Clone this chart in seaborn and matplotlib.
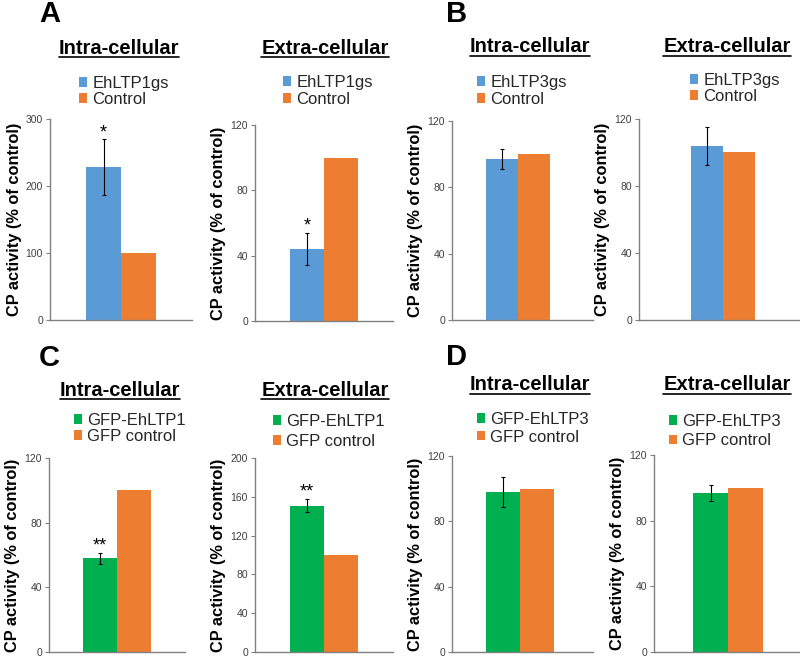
import pandas as pd
import matplotlib
matplotlib.use('Agg')
import matplotlib.pyplot as plt
import seaborn as sns
from matplotlib.lines import Line2D

# === Data ===
panel_letters = ['A', 'B', 'C', 'D']
titles = ['Intra-cellular', 'Extra-cellular'] * 4
groups = [['EhLTP1gs', 'Control'], ['EhLTP1gs', 'Control'],
          ['EhLTP3gs', 'Control'], ['EhLTP3gs', 'Control'],
          ['GFP-EhLTP1', 'GFP control'], ['GFP-EhLTP1', 'GFP control'],
          ['GFP-EhLTP3', 'GFP control'], ['GFP-EhLTP3', 'GFP control']]
values = [[228, 100], [44, 100], [97, 100], [104, 100],
          [58, 100], [151, 100], [98, 100], [97, 100]]
errors = [[42, 0], [10, 0], [6, 0], [11.5, 0],
          [3.5, 0], [7, 0], [9, 0], [5, 0]]
stars = ['*', '*', '', '', '**', '**', '', '']
ymax = [300, 120, 120, 120, 120, 200, 120, 120]
ystep = [100, 40, 40, 40, 40, 40, 40, 40]
treat_colors = ['#5B9BD5', '#5B9BD5', '#5B9BD5', '#5B9BD5',
                '#00B050', '#00B050', '#00B050', '#00B050']
control_color = '#ED7D31'

# === Layout (pixels, y from top) ===
W, H = 800, 658
# left, right, top(ymax), bottom(0), bar centre, bar width
boxes = [(50, 192, 119, 320, 121, 35), (255, 393, 125, 321, 324, 34),
         (452, 593, 121, 320, 518, 32), (639, 807, 119, 320, 723, 32),
         (49, 185, 458, 652, 117, 34), (255, 393, 458, 652, 324, 34),
         (452, 593, 456, 652, 520, 34), (654, 802, 455, 652, 728, 35)]
title_pos = [(119, 48), (325, 48), (530, 47), (727, 47),
             (120, 390), (325, 390), (530, 385), (727, 385)]
legend_pos = [(79, 76), (283, 75), (477, 75), (690, 73),
              (74, 413), (273, 414), (477, 412), (669, 414)]
legend_gap = [0.05, 0.1, 0.1, 0.05, 0.05, 0.3, 0.15, 0.25]
letter_pos = [(50, 14), (457, 14), (49, 358), (457, 357)]

sns.set_theme(style='white')
plt.rcParams['font.family'] = ['Liberation Sans', 'DejaVu Sans']

fig = plt.figure(figsize=(W / 100, H / 100), dpi=100)
fig.patch.set_facecolor('white')

title_texts = []
for i in range(8):
    l, r, t, b, c, bw = boxes[i]
    ax = fig.add_axes([l / W, (H - b) / H, (r - l) / W, (b - t) / H])
    df = pd.DataFrame({'x': ['', ''], 'group': groups[i], 'value': values[i]})
    sns.barplot(data=df, x='x', y='value', hue='group', hue_order=groups[i],
                palette=[treat_colors[i], control_color], errorbar=None,
                saturation=1, linewidth=0, width=0.8, ax=ax)
    # error bars and significance stars
    bar_conts = list(ax.containers)
    for k, cont in enumerate(bar_conts):
        p = cont.patches[0]
        xc = p.get_x() + p.get_width() / 2
        v, e = values[i][k], errors[i][k]
        if e > 0:
            ax.errorbar(xc, v, yerr=e, color='black', elinewidth=0.8,
                        capsize=1.5, capthick=0.8)
        if k == 0 and stars[i]:
            ax.text(xc, v + e - ymax[i] * 0.01, stars[i], ha='center',
                    va='bottom', fontsize=13, color='black')
    unit = bw / 0.4
    ax.set_xlim((l - c) / unit, (r - c) / unit)
    ax.set_ylim(0, ymax[i])
    ax.set_yticks(range(0, ymax[i] + 1, ystep[i]))
    ax.set_xlabel('')
    ax.set_xticks([])
    ax.set_ylabel('CP activity (% of control)', fontsize=11.8, fontweight='bold',
                  color='black', labelpad=3)
    ax.tick_params(axis='y', labelsize=7.5, labelcolor='#404040', length=3,
                   width=0.8, color='#808080', left=True, pad=2)
    for s in ['top', 'right']:
        ax.spines[s].set_visible(False)
    for s in ['left', 'bottom']:
        ax.spines[s].set_color('#808080')
        ax.spines[s].set_linewidth(1)
    handles, labels = ax.get_legend_handles_labels()
    lx, ly = legend_pos[i]
    ax.legend(handles, labels, loc='upper left', bbox_to_anchor=(lx / W, 1 - ly / H),
              bbox_transform=fig.transFigure, frameon=False, fontsize=12,
              handlelength=0.5, handleheight=0.5, handletextpad=0.3,
              labelspacing=legend_gap[i], borderpad=0, borderaxespad=0)
    tx, ty = title_pos[i]
    title_texts.append(fig.text(tx / W, 1 - ty / H, titles[i], ha='center',
                                va='center', fontsize=14.5, fontweight='bold',
                                color='black'))

for letter, (px, py) in zip(panel_letters, letter_pos):
    fig.text(px / W, 1 - py / H, letter, ha='center', va='center',
             fontsize=21, fontweight='bold', color='black')

# underline the titles
fig.canvas.draw()
renderer = fig.canvas.get_renderer()
for t in title_texts:
    bb = t.get_window_extent(renderer)
    y = (bb.y0 + 1) / H
    fig.add_artist(Line2D([bb.x0 / W, bb.x1 / W], [y, y], color='black',
                          linewidth=1.2, transform=fig.transFigure))

fig.savefig('out.png', dpi=100, facecolor='white')
